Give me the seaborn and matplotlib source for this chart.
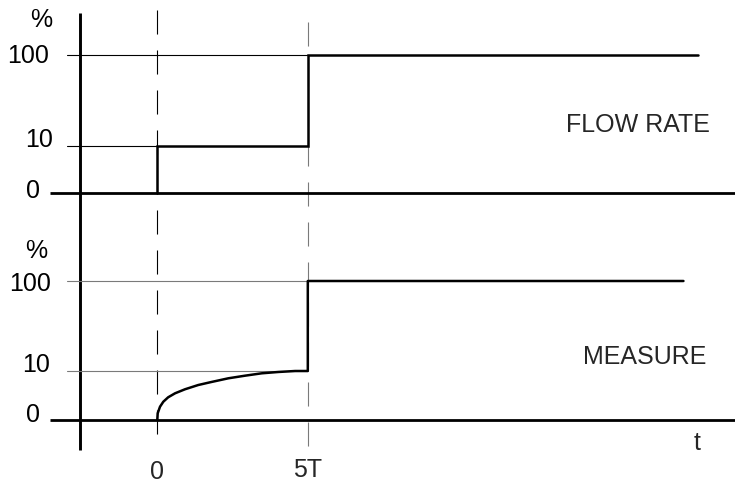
import numpy as np
import pandas as pd
import matplotlib
matplotlib.use("Agg")
import matplotlib.pyplot as plt
import seaborn as sns

# ---------------- data ----------------
level_values = [0, 10, 100]          # y tick levels (%)
level_labels = ["0", "10", "100"]
time_labels = ["0", "5T"]
time_values = [0, 5]                  # in units of T

flow_t = [0, 0, 5, 5, 17.98]
flow_v = [0, 10, 10, 100, 100]

meas_t = [0, 0.013, 0.09, 0.2, 0.36, 0.59, 0.92, 1.36, 1.8, 2.36, 2.91, 3.47,
          4.02, 4.58, 5.0, 5.0, 17.48]
meas_v = [0, 1.37, 2.71, 3.73, 4.63, 5.45, 6.27, 7.14, 7.76, 8.51, 9.04, 9.53,
          9.80, 10.0, 10.0, 100, 100]

panel_titles = ["FLOW RATE", "MEASURE"]

# ---------------- layout helpers ----------------
W, H = 735, 483
X0_PX, T_PX = 157.3, 30.1
Y0_PX, Y_UNIT = 420.0, 138.5

def px2x(p):
    return (p - X0_PX) / T_PX

def px2y(p):
    return (Y0_PX - np.asarray(p, dtype=float)) / Y_UNIT

# pixel rows of the 0 / 10 / 100 levels in each panel
panel_level_px = {"top": [193, 146, 55], "bottom": [420, 371, 281]}

def level_y(panel, v):
    return np.interp(v, level_values, px2y(panel_level_px[panel]))

sns.set_theme(style="white")
plt.rcParams["font.family"] = ["Liberation Sans", "DejaVu Sans"]
plt.rcParams["lines.scale_dashes"] = False

fig = plt.figure(figsize=(W / 100, H / 100), dpi=100)
ax = fig.add_axes([0, 0, 1, 1])
ax.set_xlim(px2x(0), px2x(W))
ax.set_ylim(px2y(H), px2y(0))
ax.axis("off")

THICK = 1.8
THIN = 0.8
GRAY = "#7a7a7a"
FS = 18

# vertical time axis
ax.plot([px2x(80)] * 2, [px2y(13), px2y(450)], color="black", lw=2.1,
        solid_capstyle="butt")

# dashed markers at t=0 and t=5T
ax.plot([time_values[0]] * 2, [px2y(10), px2y(436)], color="black", lw=THIN,
        dashes=(17.3, 11.5))
ax.plot([time_values[1]] * 2, [px2y(22), px2y(448)], color=GRAY, lw=THIN,
        dashes=(17.3, 11.5))

for panel, thin_col, ends10 in [("top", "black", 0), ("bottom", GRAY, 5)]:
    # zero baseline
    ax.plot([px2x(50), px2x(W)], [level_y(panel, 0)] * 2, color="black",
            lw=THICK + 0.2, solid_capstyle="butt")
    # reference lines at 10 and 100
    ax.plot([px2x(67), ends10], [level_y(panel, 10)] * 2, color=thin_col, lw=THIN)
    ax.plot([px2x(67), 5], [level_y(panel, 100)] * 2, color=thin_col, lw=THIN)

# signal curves
flow_df = pd.DataFrame({"t": flow_t, "y": level_y("top", np.array(flow_v))})
meas_df = pd.DataFrame({"t": meas_t, "y": level_y("bottom", np.array(meas_v))})
sns.lineplot(data=flow_df, x="t", y="y", sort=False, estimator=None, ax=ax,
             color="black", lw=THICK, solid_joinstyle="miter")
sns.lineplot(data=meas_df, x="t", y="y", sort=False, estimator=None, ax=ax,
             color="black", lw=THICK, solid_joinstyle="round")

# y level labels (baseline, right edge) per panel
lab_pos = {
    "top": {"%": (52, 27), "100": (49, 63), "10": (53, 147), "0": (40, 198)},
    "bottom": {"%": (47, 258), "100": (51, 291), "10": (50, 372), "0": (40, 422)},
}
for panel in ["top", "bottom"]:
    for txt in ["%"] + level_labels:
        xp, yp = lab_pos[panel][txt]
        ax.text(px2x(xp), px2y(yp), txt, ha="right", va="baseline",
                fontsize=FS, color="black")

# time labels
ax.text(time_values[0], px2y(479), time_labels[0], ha="center", va="baseline",
        fontsize=FS)
ax.text(time_values[1], px2y(477), time_labels[1], ha="center", va="baseline",
        fontsize=FS)
ax.text(px2x(697), px2y(450), "t", ha="center", va="baseline", fontsize=FS)

# panel titles
ax.text(px2x(638), px2y(132), panel_titles[0], ha="center", va="baseline",
        fontsize=FS)
ax.text(px2x(645), px2y(364), panel_titles[1], ha="center", va="baseline",
        fontsize=FS)

fig.savefig("out.png", dpi=100, facecolor="white")
